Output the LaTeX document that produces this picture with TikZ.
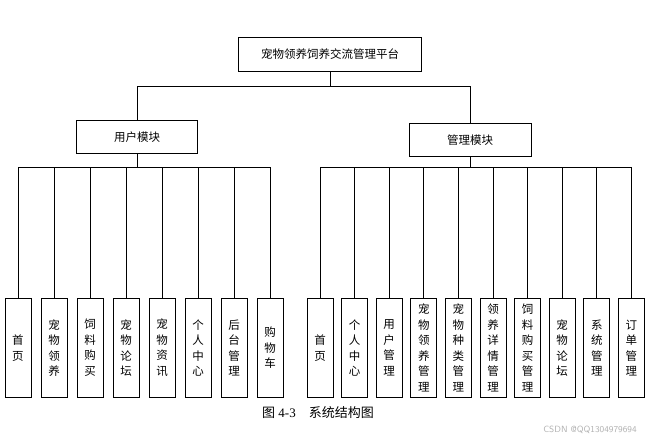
\documentclass[tikz,border=0pt]{standalone}
\usepackage{fontspec}
\setmainfont{Liberation Serif}
\newfontfamily\cjk{Noto Sans CJK SC}
\begin{document}
\begin{tikzpicture}[x=1pt,y=-1pt]
    \tikzstyle{box}=[draw=black, line width=0.8pt, font=\cjk\fontsize{11.5}{12}\selectfont, inner sep=2pt]
    \tikzstyle{leaf}=[box, minimum width=26pt, minimum height=99pt, align=center, anchor=north, font=\cjk\fontsize{11.5}{15.5}\selectfont]
    \tikzstyle{edge}=[black, line width=0.7pt]
    \useasboundingbox (0,0) rectangle (662,444);

    \node[box, minimum width=183pt, minimum height=34pt] (root) at (330,54) {宠物领养饲养交流管理平台};
    \node[box, minimum width=121pt, minimum height=33pt] (user) at (137,137) {用户模块};
    \node[box, minimum width=122pt, minimum height=33pt] (admin) at (470,140) {管理模块};

    \coordinate (r1) at (330,86);
    \draw[edge] (root) -- (r1);
    \draw[edge] (user.north) -- (137,86) -- (470,86) -- (admin.north);

    % user leaves
    \foreach \t [count=\i] in {首\\页, 宠\\物\\领\\养, 饲\\料\\购\\买, 宠\\物\\论\\坛, 宠\\物\\资\\讯, 个\\人\\中\\心, 后\\台\\管\\理, 购\\物\\车} {
        \node[leaf] (u\i) at ({18+36*(\i-1)},298) {\t};
        \draw[edge] (u\i.north) -- ({18+36*(\i-1)},167);
    }
    \draw[edge] (user) -- (137,167);
    \draw[edge] (u1.north |- 0,167) -- (u8.north |- 0,167);

    % admin leaves
    \foreach \t [count=\i] in {首\\页, 个\\人\\中\\心, 用\\户\\管\\理, 宠\\物\\领\\养\\管\\理, 宠\\物\\种\\类\\管\\理, 领\\养\\详\\情\\管\\理, 饲\\料\\购\\买\\管\\理, 宠\\物\\论\\坛, 系\\统\\管\\理, 订\\单\\管\\理} {
        \node[leaf] (m\i) at ({320+34.6*(\i-1)},298) {\t};
        \draw[edge] (m\i.north) -- ({320+34.6*(\i-1)},167);
    }
    \draw[edge] (admin) -- (470,167);
    \draw[edge] (m1.north |- 0,167) -- (m10.north |- 0,167);

    \node[font=\fontsize{13}{14}\selectfont] (cap) at (318,413) {{\cjk 图} 4-3\quad{\cjk 系统结构图}};
    \node[font=\sffamily\fontsize{9}{10}\selectfont, text=gray!60] (mark) at (590,430) {CSDN @QQ1304979694};
\end{tikzpicture}
\end{document}
